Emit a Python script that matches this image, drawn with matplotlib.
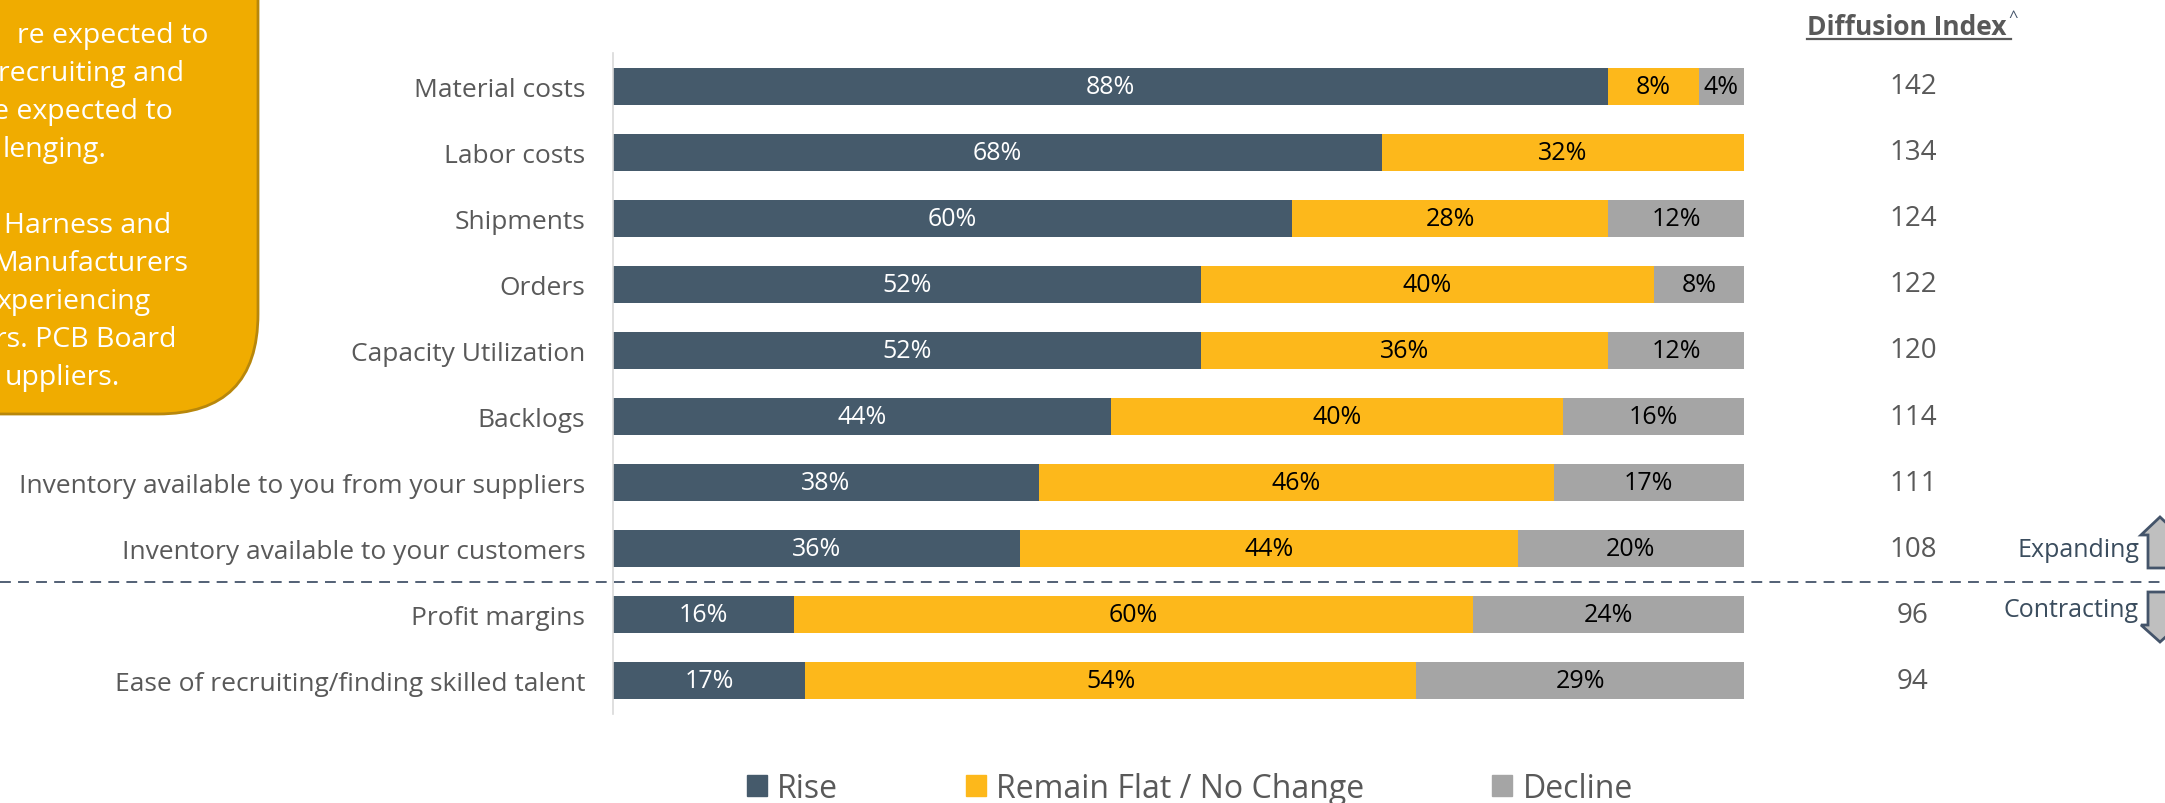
import matplotlib
matplotlib.use("Agg")
import matplotlib.pyplot as plt
import matplotlib.transforms as mtransforms
from matplotlib.patches import FancyBboxPatch, Polygon, Patch
import numpy as np

plt.rcParams['font.family'] = ['Open Sans', 'DejaVu Sans']

# ---- data ----
categories = [
    "Material costs",
    "Labor costs",
    "Shipments",
    "Orders",
    "Capacity Utilization",
    "Backlogs",
    "Inventory available to you from your suppliers",
    "Inventory available to your customers",
    "Profit margins",
    "Ease of recruiting/finding skilled talent",
]
rise = [88, 68, 60, 52, 52, 44, 38, 36, 16, 17]
flat = [8, 32, 28, 40, 36, 40, 46, 44, 60, 54]
decline = [4, 0, 12, 8, 12, 16, 17, 20, 24, 29]
diffusion = [142, 134, 124, 122, 120, 114, 111, 108, 96, 94]
series_names = ["Rise", "Remain Flat / No Change", "Decline"]

callout_lines = [
    "re expected to",
    "recruiting and",
    "e expected to",
    "lenging.",
    "Harness and",
    "Manufacturers",
    "xperiencing",
    "rs. PCB Board",
    "uppliers.",
]

COLORS = ['#455A6B', '#FDB81B', '#A5A5A5']
TEXT_COLORS = ['white', 'black', 'black']
GREY = '#595959'
SLATE = '#44546A'

W, H = 2165, 804
fig = plt.figure(figsize=(W / 100, H / 100), dpi=100)

# overlay axes in pixel coordinates for the decorations
ov = fig.add_axes([0, 0, 1, 1])
ov.set_xlim(0, W)
ov.set_ylim(H, 0)
ov.axis('off')

ax = fig.add_axes([613 / W, (H - 715) / H, 1131 / W, 661 / H])
ax.set_facecolor('none')

### Every bar is stretched to 100% (one row sums to 101)
values = np.array([rise, flat, decline], dtype=float)
shares = values / values.sum(axis=0) * 100
y = np.arange(len(categories))

left = np.zeros(len(categories))
for k in range(3):
    ax.barh(y, shares[k], left=left, height=0.56, color=COLORS[k], label=series_names[k])
    for i in range(len(categories)):
        if values[k, i] > 0:
            ax.text(left[i] + shares[k, i] / 2, i, f"{int(values[k, i])}%",
                    ha='center', va='center', fontsize=18, color=TEXT_COLORS[k])
    left += shares[k]

ax.set_xlim(0, 100)
ax.set_ylim(len(categories) - 0.5, -0.5)
ax.set_yticks(y)
ax.set_yticklabels(categories, fontsize=19, color=GREY)
ax.tick_params(axis='y', length=0, pad=20)
ax.set_xticks([])
for side in ['top', 'right', 'bottom']:
    ax.spines[side].set_visible(False)
ax.spines['left'].set_color('#D9D9D9')
ax.spines['left'].set_linewidth(1.2)

# diffusion index column
for i, v in enumerate(diffusion):
    ax.text(114.94, i, str(v), ha='center', va='center', fontsize=20, color=GREY, clip_on=False)

# dashed separator between expanding / contracting rows
trans = mtransforms.blended_transform_factory(fig.transFigure, ax.transData)
ax.plot([0, 1], [7.5, 7.5], transform=trans, clip_on=False,
        ls=(0, (6, 4)), lw=1.3, color=SLATE)

# header
hdr = ov.text(1807, 35, "Diffusion Index", fontsize=19, fontweight='bold', color=GREY, va='baseline')
fig.canvas.draw()
bb = hdr.get_window_extent().transformed(ov.transData.inverted())
ov.plot([bb.x0, bb.x1 + 4], [40, 40], color=GREY, lw=1.6)
ov.text(bb.x1 + 2, 22, "^", fontsize=12, color=SLATE, va='baseline')

# expanding / contracting markers
ov.text(2139, 557, "Expanding", ha='right', va='baseline', fontsize=18, color='#3B4D5E')
ov.text(2139, 617, "Contracting", ha='right', va='baseline', fontsize=18, color='#3B4D5E')
up = Polygon([(2160, 518), (2179, 536), (2172, 536), (2172, 569), (2148, 569), (2148, 536), (2141, 536)],
             closed=True, fc='#BFBFBF', ec=SLATE, lw=2)
down = Polygon([(2148, 593), (2172, 593), (2172, 626), (2179, 626), (2160, 643), (2141, 626), (2148, 626)],
               closed=True, fc='#BFBFBF', ec=SLATE, lw=2)
ov.add_patch(up)
ov.add_patch(down)

# callout box, cut off by the left / top edge
box = FancyBboxPatch((-300, -300), 558, 715, boxstyle="round,pad=0,rounding_size=100",
                     fc='#F0AC00', ec='#B8870B', lw=2)
ov.add_patch(box)
line_x = [17, -2, -7, 3, 4, -8, -4, -5, 5]
line_y = [43, 81, 119, 157, 233, 271, 309, 347, 385]
for tx, ty, s in zip(line_x, line_y, callout_lines):
    ov.text(tx, ty, s, fontsize=20.5, color='white', va='baseline')

# legend
handles = [Patch(color=c) for c in COLORS]
fig.legend(handles, series_names, loc='lower left', bbox_to_anchor=(747 / W, -2 / H),
           ncol=3, frameon=False, fontsize=23, handlelength=0.62, handleheight=0.62,
           handletextpad=0.33, columnspacing=4.0, borderpad=0, borderaxespad=0,
           labelcolor=GREY)

fig.savefig("out.png", dpi=100)
